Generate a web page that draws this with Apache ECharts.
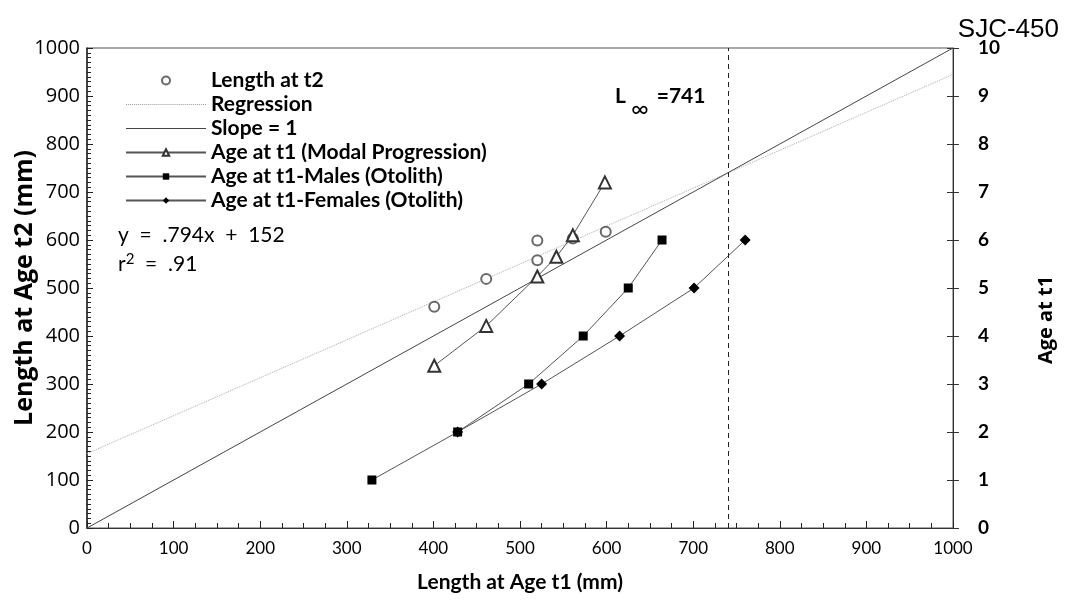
<!DOCTYPE html>
<html>
<head>
<meta charset="utf-8">
<title>SJC-450</title>
<script src="https://cdn.jsdelivr.net/npm/echarts@6/dist/echarts.min.js"></script>
<style>
  html, body { margin: 0; padding: 0; background: #fff; }
  #chart { width: 1074px; height: 601px; }
</style>
</head>
<body>
<div id="chart"></div>
<script>
// length at t1 (mm) vs length at t2 (mm), open circles
const lengthT2X = [401, 461, 520, 520, 561, 599];
const lengthT2Y = [461, 519, 558, 599, 603, 617];

// regression and 1:1 line end points
const regressionLine = [[0, 155], [1000, 945]];
const slopeOneLine = [[0, 0], [1000, 1000]];

// age at t1 (right axis)
const modalX = [401, 461, 520, 542, 561, 598];
const modalAge = [3.38, 4.21, 5.24, 5.65, 6.1, 7.2];
const malesX = [329, 428, 510, 573, 625, 664];
const malesAge = [1, 2, 3, 4, 5, 6];
const femalesX = [428, 525, 615, 701, 760];
const femalesAge = [2, 3, 4, 5, 6];

const lInfinity = 741;

const pairs = (xs, ys) => xs.map((x, i) => [x, ys[i]]);

// legend icons for the plain lines (no symbol)
const solidIcon = 'path://M0,0h80v1h-80z';
let dottedIcon = 'path://';
for (let i = 0; i < 40; i++) dottedIcon += 'M' + (i * 2) + ',0h1v1h-1z';

const chart = echarts.init(document.getElementById('chart'));
const font = 'Lato';
const plain = v => String(v);

const option = {
  backgroundColor: '#fff',
  animation: false,
  title: {
    text: 'SJC-450',
    right: 10,
    top: 12,
    textStyle: { fontFamily: 'Liberation Sans', fontSize: 26, fontWeight: 'normal', color: '#000' }
  },
  grid: {
    left: 87, right: 121, top: 48, bottom: 73,
    show: true, borderColor: '#555', borderWidth: 1, backgroundColor: 'transparent'
  },
  legend: {
    orient: 'vertical',
    left: 120,
    top: 65,
    itemWidth: 80,
    itemHeight: 8,
    itemGap: 3,
    textStyle: { fontFamily: font, fontSize: 21, fontWeight: 'bold', color: '#000', lineHeight: 20 },
    data: [
      { name: 'Length at t2' },
      { name: 'Regression', icon: dottedIcon },
      { name: 'Slope = 1', icon: solidIcon },
      { name: 'Age at t1 (Modal Progression)' },
      { name: 'Age at t1-Males (Otolith)' },
      { name: 'Age at t1-Females (Otolith)' }
    ]
  },
  xAxis: {
    type: 'value',
    min: 0, max: 1000, interval: 100,
    name: 'Length at Age t1 (mm)',
    nameLocation: 'middle',
    nameGap: 44,
    nameTextStyle: { fontFamily: font, fontSize: 21, fontWeight: 'bold', color: '#000' },
    axisLine: { lineStyle: { color: '#333', width: 1.2 } },
    axisTick: { inside: true, length: 7, lineStyle: { color: '#222' } },
    minorTick: { show: true, splitNumber: 4, length: 5, lineStyle: { color: '#222' } },
    axisLabel: { fontFamily: font, fontSize: 17, color: '#000', margin: 12, formatter: plain },
    splitLine: { show: false }
  },
  yAxis: [
    {
      type: 'value',
      min: 0, max: 1000, interval: 100,
      name: 'Length at Age t2 (mm)',
      nameLocation: 'middle',
      nameGap: 50,
      nameMoveOverlap: false,
      nameTextStyle: { fontFamily: 'Open Sans', fontSize: 25, fontWeight: 'bold', color: '#000' },
      axisLine: { lineStyle: { color: '#222', width: 1.5 } },
      axisTick: { inside: true, length: 6, lineStyle: { color: '#222' } },
      minorTick: { show: true, splitNumber: 10, length: 4, lineStyle: { color: '#222' } },
      axisLabel: { fontFamily: 'Open Sans', fontSize: 20, color: '#000', margin: 7, formatter: plain },
      splitLine: { show: false }
    },
    {
      type: 'value',
      position: 'right',
      min: 0, max: 10, interval: 1,
      axisLine: { show: true, lineStyle: { color: '#333', width: 1 } },
      axisTick: { inside: true, length: 6, lineStyle: { color: '#333' } },
      axisLabel: { fontFamily: font, fontSize: 19, fontWeight: 'bold', color: '#000', margin: 25 },
      splitLine: { show: false }
    },
    {
      // outer half of the crossing ticks on the age axis
      type: 'value',
      position: 'right',
      min: 0, max: 10, interval: 1,
      axisLine: { show: false },
      axisTick: { length: 6, lineStyle: { color: '#333' } },
      axisLabel: { show: false },
      splitLine: { show: false }
    }
  ],
  graphic: [
    {
      type: 'text', left: 118, top: 225,
      style: { text: 'y  =  .794x  +  152', font: '21px Lato', fill: '#000' }
    },
    {
      type: 'text', left: 118, top: 252,
      style: {
        text: 'r{sup|2}  =  .91',
        font: '21px Lato', fill: '#000',
        rich: { sup: { fontSize: 15, fontFamily: font, padding: [0, 0, 10, 0] } }
      }
    },
    {
      type: 'text', left: 615, top: 86,
      style: {
        text: 'L{sub|∞} =741',
        font: 'bold 21px Lato', fill: '#000',
        rich: { sub: { fontSize: 24, fontFamily: font, padding: [26, 3, 0, 5] } }
      }
    },
    {
      type: 'text', x: 1046, y: 320, rotation: Math.PI / 2,
      style: {
        text: 'Age at t1', font: 'bold 20px "Open Sans"', fill: '#000',
        align: 'center', verticalAlign: 'middle'
      }
    }
  ],
  series: [
    {
      name: 'Length at t2',
      type: 'scatter',
      symbol: 'emptyCircle',
      symbolSize: 10,
      itemStyle: { color: '#444', borderWidth: 1 },
      data: pairs(lengthT2X, lengthT2Y),
      z: 3
    },
    {
      name: 'Regression',
      type: 'line',
      symbol: 'none',
      itemStyle: { color: '#999' },
      lineStyle: { color: '#aaa', width: 1, type: 'dotted' },
      data: regressionLine
    },
    {
      name: 'Slope = 1',
      type: 'line',
      symbol: 'none',
      itemStyle: { color: '#444' },
      lineStyle: { color: '#444', width: 1 },
      data: slopeOneLine,
      markLine: {
        silent: true,
        symbol: 'none',
        label: { show: false },
        lineStyle: { color: '#222', width: 1, type: [5, 4] },
        data: [{ xAxis: lInfinity }]
      }
    },
    {
      name: 'Age at t1 (Modal Progression)',
      type: 'line',
      yAxisIndex: 1,
      symbol: 'emptyTriangle',
      symbolSize: 12,
      lineStyle: { color: '#555', width: 1 },
      itemStyle: { color: '#333', borderWidth: 1.2 },
      data: pairs(modalX, modalAge),
      z: 4
    },
    {
      name: 'Age at t1-Males (Otolith)',
      type: 'line',
      yAxisIndex: 1,
      symbol: 'rect',
      symbolSize: 9,
      lineStyle: { color: '#555', width: 1 },
      itemStyle: { color: '#000' },
      data: pairs(malesX, malesAge)
    },
    {
      name: 'Age at t1-Females (Otolith)',
      type: 'line',
      yAxisIndex: 1,
      symbol: 'diamond',
      symbolSize: 11,
      lineStyle: { color: '#555', width: 1 },
      itemStyle: { color: '#000' },
      data: pairs(femalesX, femalesAge)
    }
  ]
};

chart.setOption(option);
window.addEventListener('resize', () => chart.resize());
</script>
</body>
</html>
